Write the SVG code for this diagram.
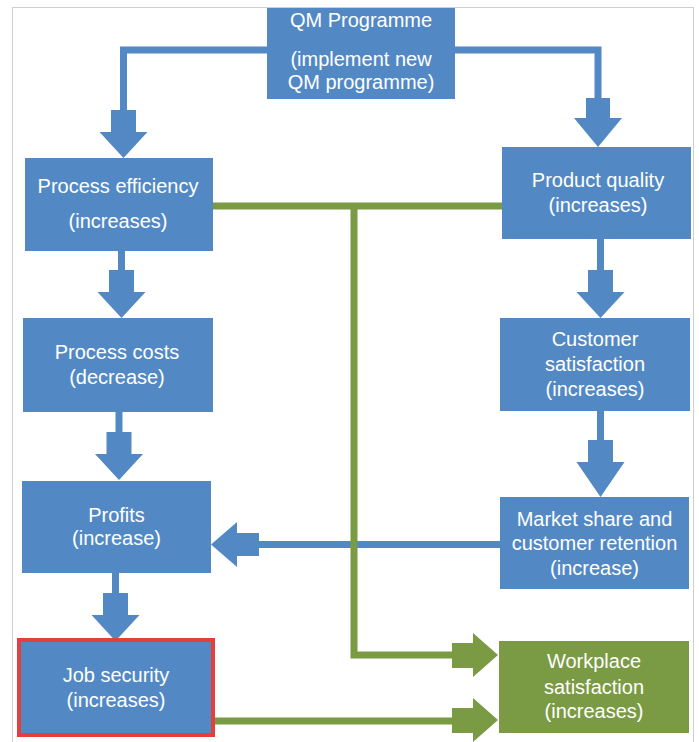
<svg xmlns="http://www.w3.org/2000/svg" width="699" height="742" viewBox="0 0 699 742">
  <style>
    .blue { fill: #5289C5; }
    .green { fill: #7B9A44; }
    .lnb { fill: none; stroke: #5289C5; stroke-width: 7; }
    .lng { fill: none; stroke: #7B9A44; stroke-width: 7; }
    .t { font-family: "Liberation Sans", Arial, sans-serif; font-size: 20px; fill: #FFFFFF; text-anchor: middle; }
  </style>
  <rect x="0" y="0" width="699" height="742" fill="#FFFFFF"/>
  <rect x="12.5" y="7.5" width="681" height="760" fill="#FFFFFF" stroke="#CFCFCF" stroke-width="1"/>

  <g id="connectors">
    <path class="lnb" d="M267,50 H123.5 V112"/>
    <path class="lnb" d="M455,50 H598 V100"/>
    <path class="lnb" d="M121.5,251 V272"/>
    <path class="lnb" d="M119,412 V434"/>
    <path class="lnb" d="M115.5,573 V595"/>
    <path class="lnb" d="M600.5,239 V272"/>
    <path class="lnb" d="M600.5,411 V442"/>
    <path class="lnb" d="M500,544.5 H257"/>
    <polygon class="blue" points="111,110 136,110 136,132 147.5,132 123.5,158 99.5,132 111,132"/>
    <polygon class="blue" points="586,98 610,98 610,118 622,118 598,147 574,118 586,118"/>
    <polygon class="blue" points="109,270 134,270 134,292 145.5,292 121.5,318 97.5,292 109,292"/>
    <polygon class="blue" points="106.5,432 131.5,432 131.5,454 143,454 119,480 95,454 106.5,454"/>
    <polygon class="blue" points="103,593 128,593 128,615 139.5,615 115.5,641 91.5,615 103,615"/>
    <polygon class="blue" points="588,270 613,270 613,292 624.5,292 600.5,318 576.5,292 588,292"/>
    <polygon class="blue" points="588,440 613,440 613,462 624.5,462 600.5,497 576.5,462 588,462"/>
    <polygon class="blue" points="259,533 259,556 237,556 237,567 211,544.5 237,522 237,533"/>
    <path class="lng" d="M213,206 H502"/>
    <path class="lng" d="M354,206 V655 H453"/>
    <path class="lng" d="M215,721 H453"/>
    <polygon class="green" points="452,643 473,643 473,633 498,655 473,677 473,668 452,668"/>
    <polygon class="green" points="452,708 473,708 473,698 498,720 473,742 473,733 452,733"/>
  </g>

  <g id="qm">
    <rect class="blue" x="267" y="8" width="188" height="91"/>
    <text class="t" x="361" y="27">QM Programme</text>
    <text class="t" x="361" y="66">(implement new</text>
    <text class="t" x="361" y="89">QM programme)</text>
  </g>
  <g id="process-efficiency">
    <rect class="blue" x="25" y="158" width="188" height="93"/>
    <text class="t" x="118" y="193">Process efficiency</text>
    <text class="t" x="118" y="228">(increases)</text>
  </g>
  <g id="product-quality">
    <rect class="blue" x="502" y="147" width="189" height="92"/>
    <text class="t" x="598" y="187">Product  quality</text>
    <text class="t" x="598" y="212">(increases)</text>
  </g>
  <g id="process-costs">
    <rect class="blue" x="23" y="318" width="190" height="94"/>
    <text class="t" x="117" y="359">Process costs</text>
    <text class="t" x="117" y="384">(decrease)</text>
  </g>
  <g id="customer-satisfaction">
    <rect class="blue" x="500" y="318" width="190" height="93"/>
    <text class="t" x="595" y="346">Customer</text>
    <text class="t" x="595" y="371">satisfaction</text>
    <text class="t" x="595" y="396">(increases)</text>
  </g>
  <g id="profits">
    <rect class="blue" x="22" y="481" width="189" height="92"/>
    <text class="t" x="116.5" y="522">Profits</text>
    <text class="t" x="116.5" y="545">(increase)</text>
  </g>
  <g id="market-share">
    <rect class="blue" x="500" y="497" width="189" height="92"/>
    <text class="t" x="594.5" y="526">Market  share and</text>
    <text class="t" x="594.5" y="550">customer retention</text>
    <text class="t" x="594.5" y="575">(increase)</text>
  </g>
  <g id="job-security">
    <rect class="blue" x="19" y="640" width="194" height="95" stroke="#E2413A" stroke-width="4"/>
    <text class="t" x="116" y="682">Job security</text>
    <text class="t" x="116" y="707">(increases)</text>
  </g>
  <g id="workplace-satisfaction">
    <rect class="green" x="499" y="641" width="190" height="92"/>
    <text class="t" x="594" y="668">Workplace</text>
    <text class="t" x="594" y="694">satisfaction</text>
    <text class="t" x="594" y="718">(increases)</text>
  </g>
</svg>
